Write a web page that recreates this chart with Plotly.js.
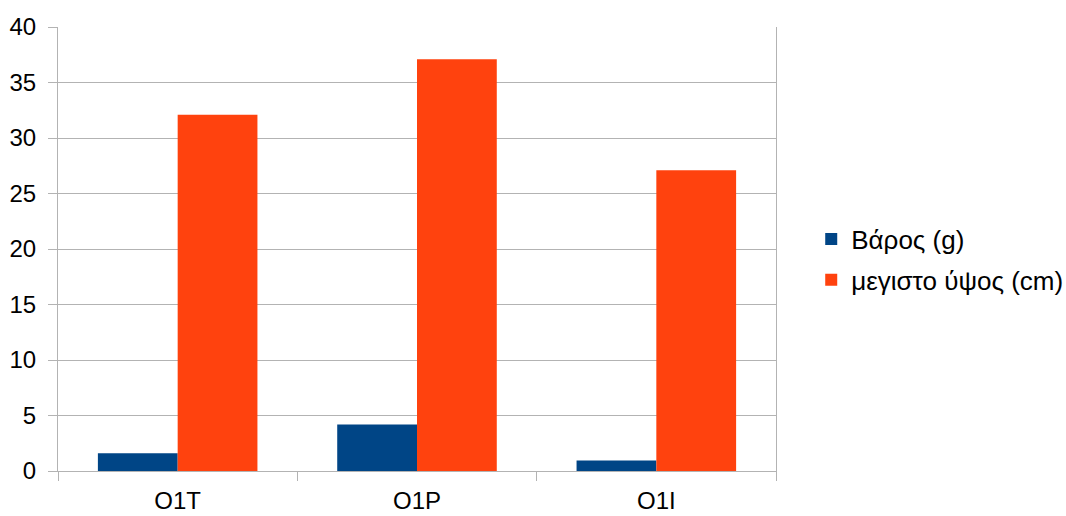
<!DOCTYPE html>
<html>
<head>
<meta charset="utf-8">
<script src="https://cdn.plot.ly/plotly-3.0.1.min.js"></script>
<style>html,body{margin:0;padding:0;background:#fff;}#chart{width:1066px;height:516px;}</style>
</head>
<body>
<div id="chart"></div>
<script>
const categories = ["O1T", "O1P", "O1I"];
const weight = [1.6, 4.2, 0.95];
const maxHeight = [32.1, 37.1, 27.1];
const seriesNames = ["Βάρος (g)", "μεγιστο ύψος (cm)"];
const yTicks = [0, 5, 10, 15, 20, 25, 30, 35, 40];

const traces = [
  {type: "bar", x: categories, y: weight, name: seriesNames[0], marker: {color: "#004586"}, legendgroup: "a"},
  {type: "bar", x: categories, y: maxHeight, name: seriesNames[1], marker: {color: "#ff420e"}, legendgroup: "b"}
];

const layout = {
  width: 1066, height: 516,
  margin: {l: 58, r: 290, t: 27, b: 45, pad: 0, autoexpand: false},
  paper_bgcolor: "#ffffff", plot_bgcolor: "#ffffff",
  font: {family: "Liberation Sans, Arial, sans-serif", size: 24, color: "#000000"},
  barmode: "group", bargap: 1/3, bargroupgap: 0,
  xaxis: {
    showline: true, linecolor: "#b3b3b3", linewidth: 1,
    ticks: "outside", tickson: "boundaries", ticklen: 9, tickcolor: "#b3b3b3",
    showgrid: false, tickfont: {size: 24}, ticklabelstandoff: 8
  },
  yaxis: {
    range: [0, 40], tickvals: yTicks, ticktext: yTicks.map(String),
    showline: true, mirror: true, linecolor: "#b3b3b3", linewidth: 1,
    ticks: "outside", ticklen: 9, tickcolor: "#b3b3b3",
    showgrid: true, gridcolor: "#b3b3b3", gridwidth: 1,
    zeroline: false, tickfont: {size: 24}, ticklabelstandoff: 7
  },
  legend: {
    xref: "container", yref: "container",
    x: 0.761, y: 0.497, xanchor: "left", yanchor: "middle",
    traceorder: "grouped", tracegroupgap: 4,
    font: {size: 26}, bgcolor: "rgba(0,0,0,0)"
  },
  showlegend: true
};

Plotly.newPlot("chart", traces, layout, {displayModeBar: false, staticPlot: true});
</script>
</body>
</html>
